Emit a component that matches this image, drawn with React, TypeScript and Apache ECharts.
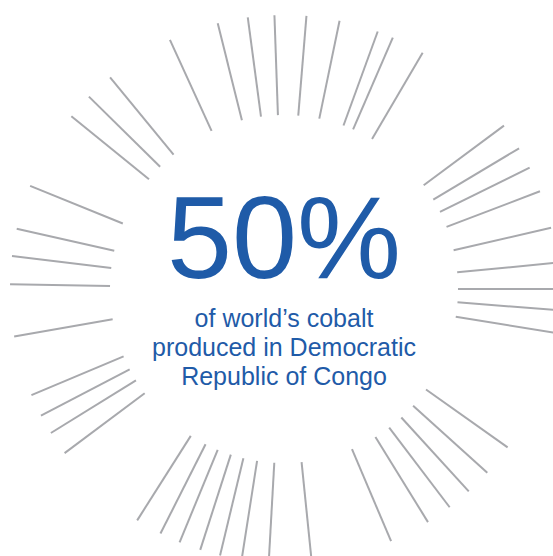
import React, { useEffect, useRef } from "react";
import * as echarts from "echarts";

// Bearing of each ray in degrees, clockwise from 12 o'clock
const rayAngles: number[] = [
  335.4, 346.0, 352.4, 358.0, 4.7, 11.7, 20.0, 23.4, 30.4,
  53.4, 59.1, 63.7, 69.1, 77.1, 84.5, 90.0, 94.4, 99.2,
  125.3, 132.1, 137.6, 142.8, 148.3, 157.0, 174.2,
  183.2, 188.9, 193.5, 197.8, 202.4, 206.8, 212.4,
  233.2, 238.3, 242.5, 247.2, 260.0, 271.0, 276.9, 282.7, 292.1,
  309.1, 314.6, 320.6,
];
// Radial extent of every ray on a 0–100 radius scale
const rayStart: number[] = rayAngles.map(() => 63.5);
const rayEnd: number[] = rayAngles.map(() => 100);

const headline = "50%";
const subtitleLines: string[] = [
  "of world\u2019s cobalt",
  "produced in Democratic",
  "Republic of Congo",
];

const BLUE = "#1f5ba8";
const GRAY = "#a8a9ad";

export default function App() {
  const ref = useRef<HTMLDivElement>(null);
  useEffect(() => {
    if (!ref.current) return;
    const chart = echarts.init(ref.current, undefined, { renderer: "svg" });
    const cx = 284;
    const cy = 289;
    const data = rayAngles.map((a, i) => [rayEnd[i], a, rayStart[i]]);
    chart.setOption({
      animation: false,
      backgroundColor: "#ffffff",
      polar: { center: [cx, cy], radius: 274 },
      angleAxis: {
        type: "value",
        min: 0,
        max: 360,
        startAngle: 90,
        clockwise: true,
        axisLine: { show: false },
        axisTick: { show: false },
        axisLabel: { show: false },
        splitLine: { show: false },
      },
      radiusAxis: {
        type: "value",
        min: 0,
        max: 100,
        axisLine: { show: false },
        axisTick: { show: false },
        axisLabel: { show: false },
        splitLine: { show: false },
      },
      series: [
        {
          type: "custom",
          coordinateSystem: "polar",
          encode: { radius: 0, angle: 1 },
          data,
          renderItem: (params: any, api: any) => {
            const ang = api.value(1);
            const p0 = api.coord([api.value(2), ang]);
            const p1 = api.coord([api.value(0), ang]);
            return {
              type: "line",
              shape: { x1: p0[0], y1: p0[1], x2: p1[0], y2: p1[1] },
              style: { stroke: GRAY, lineWidth: 2 },
            };
          },
        },
      ],
      graphic: [
        {
          type: "text",
          x: cx,
          y: 237.5,
          style: {
            text: headline,
            fill: BLUE,
            font: '117px "Liberation Sans", Arial, sans-serif',
            lineHeight: 88,
            align: "center",
            verticalAlign: "middle",
          },
        },
        ...subtitleLines.map((t, i) => ({
          type: "text",
          x: cx,
          y: 317.5 + i * 29,
          style: {
            text: t,
            fill: BLUE,
            font: '25px "Liberation Sans", Arial, sans-serif',
            lineHeight: 26,
            align: "center",
            verticalAlign: "middle",
          },
        })),
      ],
    });
    return () => chart.dispose();
  }, []);
  return (
    <div
      ref={ref}
      style={{ position: "fixed", left: 0, top: 0, width: 553, height: 556 }}
    />
  );
}
